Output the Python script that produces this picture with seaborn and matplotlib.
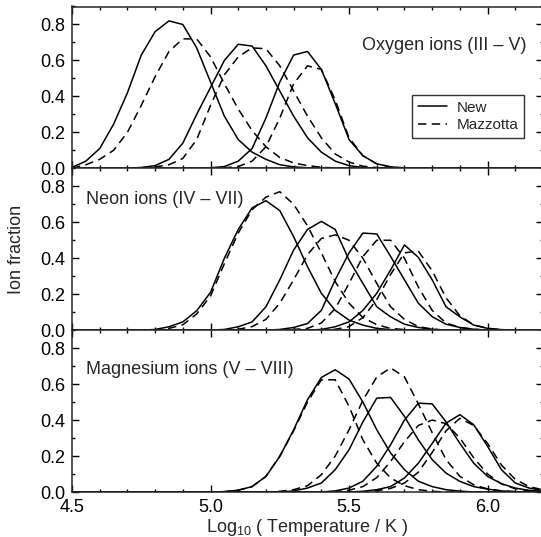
import numpy as np
import pandas as pd
import matplotlib
matplotlib.use("Agg")
import matplotlib.pyplot as plt
import seaborn as sns
from matplotlib.ticker import MultipleLocator
from matplotlib.lines import Line2D

# log10 temperature grid of the tabulated ion fractions
log_t = [4.50, 4.55, 4.60, 4.65, 4.70, 4.75, 4.80, 4.85, 4.90, 4.95,
         5.00, 5.05, 5.10, 5.15, 5.20, 5.25, 5.30, 5.35, 5.40, 5.45,
         5.50, 5.55, 5.60, 5.65, 5.70, 5.75, 5.80, 5.85, 5.90, 5.95,
         6.00, 6.05, 6.10, 6.15, 6.20]

# Oxygen III - V
o3_new = [0.005, 0.04, 0.11, 0.245, 0.42, 0.63, 0.76, 0.82, 0.80, 0.67,
          0.48, 0.29, 0.16, 0.09, 0.05, 0.02, 0.008, 0.003, 0, 0,
          0, 0, 0, 0, 0, 0, 0, 0, 0, 0, 0, 0, 0, 0, 0]
o3_maz = [0.0, 0.02, 0.05, 0.10, 0.20, 0.35, 0.51, 0.65, 0.72, 0.72,
          0.62, 0.47, 0.33, 0.21, 0.12, 0.06, 0.03, 0.015, 0.006, 0.002,
          0, 0, 0, 0, 0, 0, 0, 0, 0, 0, 0, 0, 0, 0, 0]
o4_new = [0, 0, 0, 0, 0, 0.005, 0.015, 0.05, 0.14, 0.30,
          0.45, 0.60, 0.69, 0.68, 0.57, 0.43, 0.29, 0.17, 0.09, 0.04,
          0.015, 0.005, 0, 0, 0, 0, 0, 0, 0, 0, 0, 0, 0, 0, 0]
o4_maz = [0, 0, 0, 0, 0, 0, 0.008, 0.02, 0.055, 0.16,
          0.35, 0.52, 0.62, 0.67, 0.665, 0.57, 0.43, 0.29, 0.17, 0.08,
          0.035, 0.012, 0.004, 0, 0, 0, 0, 0, 0, 0, 0, 0, 0, 0, 0]
o5_new = [0, 0, 0, 0, 0, 0, 0, 0, 0, 0,
          0.003, 0.01, 0.04, 0.11, 0.28, 0.48, 0.63, 0.65, 0.55, 0.36,
          0.16, 0.07, 0.025, 0.008, 0.003, 0, 0, 0, 0, 0, 0, 0, 0, 0, 0]
o5_maz = [0, 0, 0, 0, 0, 0, 0, 0, 0, 0,
          0, 0.003, 0.01, 0.04, 0.12, 0.28, 0.47, 0.57, 0.55, 0.38,
          0.17, 0.07, 0.025, 0.008, 0, 0, 0, 0, 0, 0, 0, 0, 0, 0, 0]

# Neon IV - VII
ne4_new = [0, 0, 0, 0, 0, 0, 0.004, 0.019, 0.046, 0.108,
           0.21, 0.40, 0.56, 0.68, 0.72, 0.665, 0.52, 0.353, 0.205, 0.11,
           0.056, 0.028, 0.01, 0.003, 0, 0, 0, 0, 0, 0, 0, 0, 0, 0, 0]
ne4_maz = [0, 0, 0, 0, 0, 0, 0, 0.01, 0.03, 0.09,
           0.19, 0.37, 0.54, 0.67, 0.74, 0.77, 0.70, 0.58, 0.43, 0.27,
           0.15, 0.07, 0.03, 0.01, 0.003, 0, 0, 0, 0, 0, 0, 0, 0, 0, 0]
ne5_new = [0, 0, 0, 0, 0, 0, 0, 0, 0, 0,
           0, 0.004, 0.019, 0.046, 0.13, 0.28, 0.446, 0.56, 0.605, 0.56,
           0.39, 0.26, 0.13, 0.074, 0.033, 0.015, 0.005, 0, 0, 0, 0, 0, 0, 0, 0]
ne5_maz = [0, 0, 0, 0, 0, 0, 0, 0, 0, 0,
           0, 0, 0.005, 0.02, 0.06, 0.15, 0.28, 0.42, 0.51, 0.53,
           0.50, 0.40, 0.26, 0.13, 0.06, 0.02, 0.006, 0, 0, 0, 0, 0, 0, 0, 0]
ne6_new = [0, 0, 0, 0, 0, 0, 0, 0, 0, 0,
           0, 0, 0, 0, 0, 0.004, 0.015, 0.037, 0.11, 0.28,
           0.43, 0.54, 0.535, 0.41, 0.28, 0.15, 0.075, 0.033, 0.015, 0.005,
           0, 0, 0, 0, 0]
ne6_maz = [0, 0, 0, 0, 0, 0, 0, 0, 0, 0,
           0, 0, 0, 0, 0, 0, 0.004, 0.01, 0.04, 0.12,
           0.26, 0.41, 0.50, 0.50, 0.40, 0.24, 0.11, 0.04, 0.015, 0.005,
           0, 0, 0, 0, 0]
ne7_new = [0, 0, 0, 0, 0, 0, 0, 0, 0, 0,
           0, 0, 0, 0, 0, 0, 0, 0, 0.004, 0.019,
           0.046, 0.11, 0.205, 0.335, 0.474, 0.405, 0.28, 0.13, 0.074, 0.028,
           0.01, 0.003, 0, 0, 0]
ne7_maz = [0, 0, 0, 0, 0, 0, 0, 0, 0, 0,
           0, 0, 0, 0, 0, 0, 0, 0, 0, 0.005,
           0.02, 0.07, 0.17, 0.31, 0.43, 0.44, 0.33, 0.18, 0.08, 0.03,
           0.01, 0.003, 0, 0, 0]

# Magnesium V - VIII
mg5_new = [0, 0, 0, 0, 0, 0, 0, 0, 0, 0,
           0, 0.002, 0.01, 0.03, 0.087, 0.198, 0.346, 0.513, 0.637, 0.68,
           0.628, 0.50, 0.346, 0.217, 0.124, 0.06, 0.03, 0.013, 0.005, 0,
           0, 0, 0, 0, 0]
mg5_maz = [0, 0, 0, 0, 0, 0, 0, 0, 0, 0,
           0, 0.002, 0.01, 0.03, 0.087, 0.20, 0.34, 0.50, 0.624, 0.624,
           0.476, 0.29, 0.16, 0.078, 0.035, 0.013, 0.004, 0, 0, 0,
           0, 0, 0, 0, 0]
mg6_new = [0, 0, 0, 0, 0, 0, 0, 0, 0, 0,
           0, 0, 0, 0, 0, 0, 0.006, 0.022, 0.05, 0.124,
           0.235, 0.39, 0.522, 0.526, 0.42, 0.29, 0.18, 0.105, 0.059, 0.03,
           0.016, 0.006, 0.002, 0, 0]
mg6_maz = [0, 0, 0, 0, 0, 0, 0, 0, 0, 0,
           0, 0, 0, 0, 0, 0.004, 0.013, 0.035, 0.096, 0.20,
           0.346, 0.51, 0.64, 0.69, 0.64, 0.49, 0.33, 0.18, 0.087, 0.04,
           0.017, 0.006, 0.002, 0, 0]
mg7_new = [0, 0, 0, 0, 0, 0, 0, 0, 0, 0,
           0, 0, 0, 0, 0, 0, 0, 0, 0, 0.006,
           0.022, 0.06, 0.143, 0.263, 0.40, 0.494, 0.49, 0.39, 0.27, 0.16,
           0.087, 0.046, 0.022, 0.009, 0.004]
mg7_maz = [0, 0, 0, 0, 0, 0, 0, 0, 0, 0,
           0, 0, 0, 0, 0, 0, 0, 0, 0, 0,
           0.01, 0.03, 0.08, 0.17, 0.28, 0.37, 0.40, 0.38, 0.30, 0.19,
           0.10, 0.045, 0.018, 0.007, 0.002]
mg8_new = [0, 0, 0, 0, 0, 0, 0, 0, 0, 0,
           0, 0, 0, 0, 0, 0, 0, 0, 0, 0,
           0, 0.004, 0.013, 0.03, 0.078, 0.16, 0.27, 0.383, 0.43, 0.374,
           0.254, 0.124, 0.05, 0.022, 0.008]
mg8_maz = [0, 0, 0, 0, 0, 0, 0, 0, 0, 0,
           0, 0, 0, 0, 0, 0, 0, 0, 0, 0,
           0, 0, 0.007, 0.02, 0.05, 0.11, 0.22, 0.34, 0.41, 0.37,
           0.27, 0.15, 0.07, 0.03, 0.012]

panels = [
    ("Oxygen ions (III \u2013 V)", [o3_new, o4_new, o5_new], [o3_maz, o4_maz, o5_maz]),
    ("Neon ions (IV \u2013 VII)", [ne4_new, ne5_new, ne6_new, ne7_new], [ne4_maz, ne5_maz, ne6_maz, ne7_maz]),
    ("Magnesium ions (V \u2013 VIII)", [mg5_new, mg6_new, mg7_new, mg8_new], [mg5_maz, mg6_maz, mg7_maz, mg8_maz]),
]

sns.set_style("ticks")
plt.rcParams['font.family'] = ['Liberation Sans', 'DejaVu Sans']
plt.rcParams['mathtext.fontset'] = 'custom'
plt.rcParams['mathtext.rm'] = 'Liberation Sans'

fig = plt.figure(figsize=(5.41, 5.37), dpi=100)
gs = fig.add_gridspec(3, 1, left=72 / 541, right=543 / 541, bottom=1 - 492 / 537, top=1 - 6.5 / 537, hspace=0)
axes = [fig.add_subplot(gs[i]) for i in range(3)]

dash = (0, (5.5, 3.5))
for ax, (title, news, mazs) in zip(axes, panels):
    for vals in mazs:
        sns.lineplot(x=log_t, y=vals, ax=ax, color='black', linewidth=1.1, linestyle=dash)
    for vals in news:
        sns.lineplot(x=log_t, y=vals, ax=ax, color='black', linewidth=1.1)

    ax.set_xlim(4.5, 6.2)
    ax.set_ylim(0, 0.9)
    ax.xaxis.set_major_locator(MultipleLocator(0.5))
    ax.xaxis.set_minor_locator(MultipleLocator(0.1))
    ax.yaxis.set_minor_locator(MultipleLocator(0.1))
    ax.set_yticks([0.0, 0.2, 0.4, 0.6, 0.8])
    ax.yaxis.set_major_formatter(lambda s, i: f'{s:.1f}')
    ax.xaxis.set_major_formatter(lambda s, i: f'{s:.1f}')
    ax.tick_params(which='both', direction='in', top=True, right=True, labelsize=13, width=1, colors='black', pad=5)
    ax.tick_params(which='major', length=5)
    ax.tick_params(which='minor', length=2.5)
    for sp in ax.spines.values():
        sp.set_linewidth(1.1)
    ax.set_xlabel('')
    ax.set_ylabel('')

axes[0].tick_params(labelbottom=False)
axes[1].tick_params(labelbottom=False)

# panel labels
axes[0].text(0.966, 0.758, panels[0][0], transform=axes[0].transAxes, ha='right', va='center', fontsize=13)
axes[1].text(0.03, 0.81, panels[1][0], transform=axes[1].transAxes, ha='left', va='center', fontsize=13)
axes[2].text(0.03, 0.76, panels[2][0], transform=axes[2].transAxes, ha='left', va='center', fontsize=13)

# legend
handles = [Line2D([], [], color='black', linewidth=1.1),
           Line2D([], [], color='black', linewidth=1.1, linestyle=dash)]
leg = axes[0].legend(handles, ['New', 'Mazzotta'], loc='upper left', bbox_to_anchor=(0.722, 0.455),
                     borderaxespad=0, frameon=True, fancybox=False, fontsize=11,
                     handlelength=1.9, handletextpad=0.6, borderpad=0.4, labelspacing=0.2)
leg.get_frame().set_edgecolor('black')
leg.get_frame().set_linewidth(1.0)

axes[1].set_ylabel('Ion fraction', fontsize=13)
axes[1].yaxis.set_label_coords(-0.1, 0.5)
axes[2].set_xlabel('Log$_{10}$ ( Temperature / K )', fontsize=13, labelpad=1)

fig.savefig('out.png', dpi=100, facecolor='white')
